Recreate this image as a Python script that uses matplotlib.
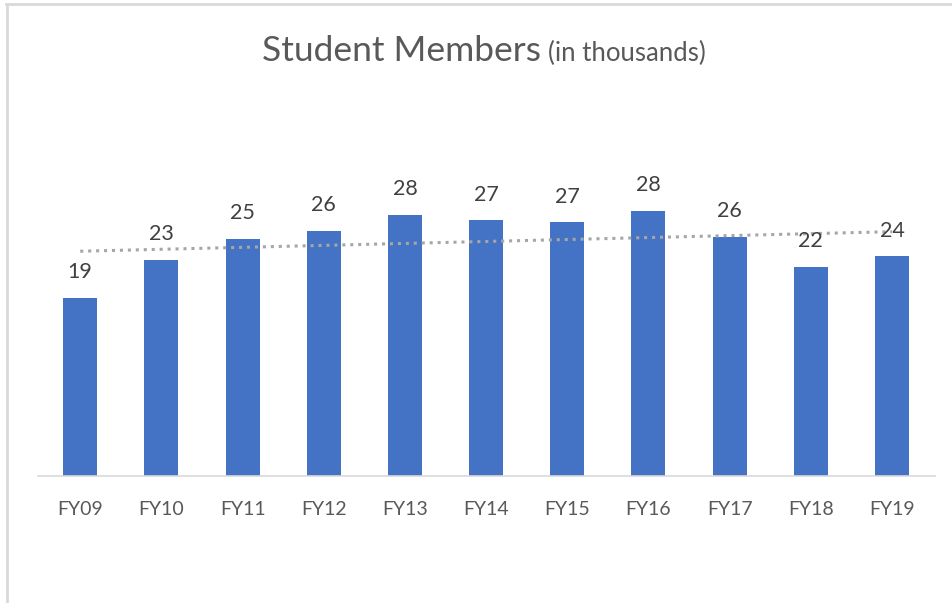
import matplotlib
matplotlib.use("Agg")
import matplotlib.pyplot as plt
from matplotlib.lines import Line2D
import numpy as np

categories = ["FY09", "FY10", "FY11", "FY12", "FY13", "FY14", "FY15", "FY16", "FY17", "FY18", "FY19"]
values = [19.1, 23.2, 25.4, 26.3, 28.0, 27.4, 27.2, 28.4, 25.6, 22.4, 23.55]

plt.rcParams['font.family'] = ['Lato', 'DejaVu Sans']

fig = plt.figure(figsize=(9.53, 6.03), dpi=100)
W, H = 953, 603
ax = fig.add_axes([38 / W, 1 - 476 / H, (935 - 38) / W, (476 - 121.5) / H])

x = np.arange(len(categories))
ax.bar(x, values, width=0.42, color="#4472C4", zorder=2)

# linear trendline
coef = np.polyfit(x, values, 1)
ax.plot(x, np.polyval(coef, x), linestyle=(0, (1, 1.6)), color="#A6A6A6",
        linewidth=2.2, zorder=3)

for xi, v in zip(x, values):
    ax.annotate(f"{round(v):d}", (xi, v), xytext=(0, 18.5), textcoords="offset points",
                ha="center", va="center", fontsize=15.5, color="#404040", zorder=4)

ax.set_xlim(-0.52, len(categories) - 1 + 0.53)
ax.set_ylim(0, 38)
ax.set_yticks([])
ax.set_xticks(x)
ax.set_xticklabels(categories, fontsize=14, color="#595959")
ax.tick_params(axis="x", length=0, pad=18)
for s in ["top", "right", "left"]:
    ax.spines[s].set_visible(False)
ax.spines["bottom"].set_color("#D9D9D9")
ax.spines["bottom"].set_linewidth(1.2)

fig.text(541 / W, 1 - 61 / H, "Student Members", ha="right", va="baseline",
         fontsize=25.5, color="#595959")
fig.text(548 / W, 1 - 61 / H, "(in thousands)", ha="left", va="baseline",
         fontsize=18.5, color="#595959")

# light frame lines at top and left
fig.add_artist(Line2D([6 / W, 1], [1 - 4 / H, 1 - 4 / H], color="#D9D9D9", lw=2,
                      transform=fig.transFigure))
fig.add_artist(Line2D([7 / W, 7 / W], [0, 1 - 4 / H], color="#D9D9D9", lw=2,
                      transform=fig.transFigure))

fig.savefig("out.png", dpi=100)
